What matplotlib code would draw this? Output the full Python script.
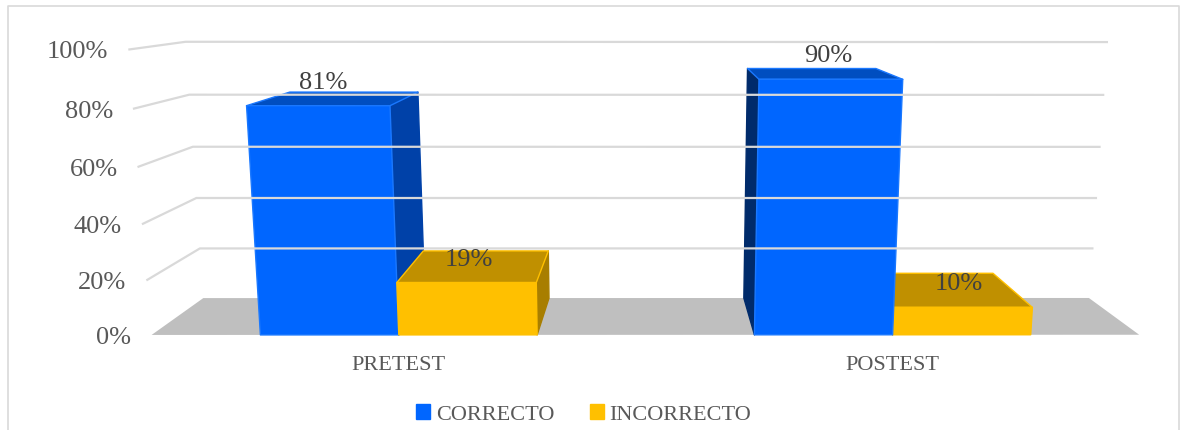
import numpy as np
from matplotlib import pyplot as plt
from matplotlib.patches import Patch

plt.rcParams["font.family"] = ["Liberation Serif", "DejaVu Serif"]

categories = ["PRETEST", "POSTEST"]
series_names = ["CORRECTO", "INCORRECTO"]
correcto = [81, 90]
incorrecto = [19, 10]
ticks = [0, 20, 40, 60, 80, 100]
tick_labels = ["0%", "20%", "40%", "60%", "80%", "100%"]

# colours per series: front, top, right side, left side, edge
blue = ("#0066FF", "#004EC0", "#0041A8", "#002B6B", "#1A78FF")
yellow = ("#FFC000", "#C09000", "#A87E00", "#A87E00", "#FFC000")

# pixel positions of the 3d frame, used to fit the camera
back_y = [298, 248, 198, 147, 95, 42]
back_left_x = [203, 200, 196, 193, 189, 186]
back_right_x = [1089, 1092.5, 1096, 1099.5, 1103, 1107]
front_y = [335, 280, 224, 167, 108, 49]
front_left_x = [152, 147, 143, 139, 134, 129]
floor_right_x = 1139


def fit_camera():
    world, image = [], []
    for i, t in enumerate(ticks):
        world += [(0, t / 100, 1), (1, t / 100, 1), (0, t / 100, 0)]
        image += [(back_left_x[i], back_y[i]), (back_right_x[i], back_y[i]), (front_left_x[i], front_y[i])]
    world.append((1, 0, 0))
    image.append((floor_right_x, front_y[0]))
    rows, rhs = [], []
    for (x, v, z), (u, w) in zip(world, image):
        rows.append([x, v, z, 1, 0, 0, 0, 0, -u * x, -u * v, -u * z])
        rows.append([0, 0, 0, 0, x, v, z, 1, -w * x, -w * v, -w * z])
        rhs += [u, w]
    return np.linalg.lstsq(np.array(rows, float), np.array(rhs, float), rcond=None)[0]


cam = fit_camera()


def project(x, value, z):
    v = value / 100
    d = cam[8] * x + cam[9] * v + cam[10] * z + 1
    return ((cam[0] * x + cam[1] * v + cam[2] * z + cam[3]) / d,
            (cam[4] * x + cam[5] * v + cam[6] * z + cam[7]) / d)


def face(ax, pts, color, edge):
    ax.fill(*zip(*pts), facecolor=color, edgecolor=edge, linewidth=1.0, joinstyle="round")


def draw_bar(ax, x0, x1, value, colors):
    front, top, right, left, edge = colors
    if x1 < 0.5:
        face(ax, [project(x1, 0, 0), project(x1, 0, 1), project(x1, value, 1), project(x1, value, 0)], right, right)
    if x0 > 0.5:
        face(ax, [project(x0, 0, 0), project(x0, 0, 1), project(x0, value, 1), project(x0, value, 0)], left, left)
    face(ax, [project(x0, value, 0), project(x0, value, 1), project(x1, value, 1), project(x1, value, 0)], top, edge)
    face(ax, [project(x0, 0, 0), project(x1, 0, 0), project(x1, value, 0), project(x0, value, 0)], front, edge)


fig = plt.figure(figsize=(11.8, 4.31), dpi=100)
ax = fig.add_axes([0, 0, 1, 1])
ax.set_xlim(0, 1180)
ax.set_ylim(430, -1)
ax.axis("off")

# chart border, the bottom is cut off in the original
ax.plot([8, 8, 1179, 1179], [431, 6, 6, 431], color="#D9D9D9", lw=1.2)

# floor
ax.fill(*zip(project(0, 0, 0), project(1, 0, 0), project(1, 0, 1), project(0, 0, 1)), color="#BFBFBF", lw=0)

# gridlines and y labels
for t, label in zip(ticks, tick_labels):
    if t > 0:
        ax.plot(*zip(project(0, t, 0), project(0, t, 1), project(1, t, 1)), color="#D9D9D9", lw=1.6)
    px, py = project(0, t, 0)
    ax.text(px - 21, py + 2, label, ha="right", va="center", fontsize=19, color="#595959")

# bars, drawn from the outside towards the middle of the chart
bar_w = 0.14
for i, cat in enumerate(categories):
    center = (i + 0.5) / len(categories)
    bars = [(center - bar_w, center, correcto[i], blue), (center, center + bar_w, incorrecto[i], yellow)]
    if center > 0.5:
        bars = bars[::-1]
    for x0, x1, value, colors in bars:
        draw_bar(ax, x0, x1, value, colors)
    for x0, x1, value, colors in bars:
        lx = project((x0 + x1) / 2, value, 0.12)[0]
        ly = project((x0 + x1) / 2, value, 0)[1] - 24
        ax.text(lx, ly, f"{value}%", ha="center", va="center", fontsize=19, color="#404040")
    cx, cy = project(center, 0, 0)
    ax.text(cx, cy + 30, cat, ha="center", va="center", fontsize=16, color="#595959")

handles = [Patch(color=blue[0]), Patch(color=yellow[0])]
ax.legend(handles, series_names, loc="center", bbox_to_anchor=(583.5, 414), bbox_transform=ax.transData,
          ncol=2, frameon=False, fontsize=16, labelcolor="#595959", handlelength=0.65, handleheight=0.7,
          handletextpad=0.25, columnspacing=1.6, borderpad=0, borderaxespad=0)

fig.savefig("out.png", dpi=100)
